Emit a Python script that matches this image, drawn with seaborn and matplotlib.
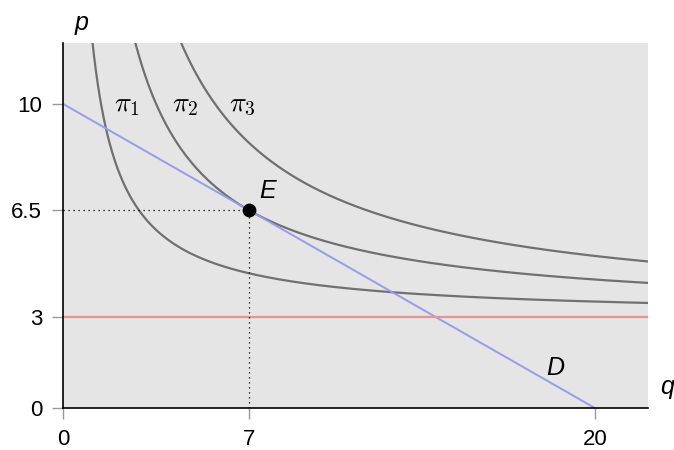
"""
Monopoly pricing diagram: iso-profit curves, demand and marginal cost.
"""
import numpy as np
import pandas as pd
import matplotlib
matplotlib.use("Agg")
import matplotlib.pyplot as plt
import seaborn as sns

# ── chart values ────────────────────────────────────────────────────────────
profit_levels = [10, 24.5, 40]           # pi_1, pi_2, pi_3
profit_labels = [r"$\pi_1$", r"$\pi_2$", r"$\pi_3$"]
marginal_cost = 3
demand_q = [0, 20]                       # demand line end points
demand_p = [10, 0]
eq_q, eq_p = 7, 6.5                      # optimum E
x_ticks = [0, 7, 20]
y_ticks = [0, 3, 6.5, 10]
y_tick_labels = ["0", "3", "6.5", "10"]

CURVE = "#707070"
DEMAND = "#9a9aee"
COST = "#e89494"

sns.set_theme(style="white")
plt.rcParams["font.family"] = ["Liberation Sans", "DejaVu Sans"]
plt.rcParams["mathtext.fontset"] = "cm"
plt.rcParams["text.color"] = "black"

fig = plt.figure(figsize=(6.74, 4.5), dpi=100)
ax = fig.add_axes([0.0935, 0.0933, 0.868, 0.811])
ax.set_facecolor("#e5e5e5")

# iso-profit curves p = c + pi / q
q = np.linspace(0.3, 22, 600)
rows = []
for lvl, lab in zip(profit_levels, profit_labels):
    rows.append(pd.DataFrame({"q": q, "p": marginal_cost + lvl / q, "curve": lab}))
curves = pd.concat(rows)
sns.lineplot(data=curves, x="q", y="p", units="curve", estimator=None,
             color=CURVE, linewidth=1.6, ax=ax, legend=False)

# demand and marginal cost
sns.lineplot(x=demand_q, y=demand_p, color=DEMAND, linewidth=1.4, ax=ax)
ax.axhline(marginal_cost, color=COST, linewidth=1.6)

# guide lines to E
ax.plot([0, eq_q], [eq_p, eq_p], color="black", linestyle=(0, (1, 3)), linewidth=0.9)
ax.plot([eq_q, eq_q], [0, eq_p], color="black", linestyle=(0, (1, 3)), linewidth=0.9)
ax.scatter([eq_q], [eq_p], s=80, color="black", zorder=5)

ax.set_xlim(0, 22)
ax.set_ylim(0, 12)
ax.set_xticks(x_ticks)
ax.set_yticks(y_ticks)
ax.set_yticklabels(y_tick_labels)
ax.tick_params(axis="both", direction="out", length=8, width=1, color="#999999",
               labelsize=16, labelcolor="black", pad=7, bottom=True, left=True)
ax.set_xlabel("")
ax.set_ylabel("")
for side in ["top", "right"]:
    ax.spines[side].set_visible(False)
for side in ["left", "bottom"]:
    ax.spines[side].set_color("black")
    ax.spines[side].set_linewidth(1.2)

# labels
for x, lab in zip([2.4, 4.6, 6.75], profit_labels):
    ax.text(x, 9.95, lab, fontsize=20, ha="center", va="center", color="black")
ax.text(7.7, 7.15, "E", fontsize=18, style="italic", ha="center", va="center",
        color="black")
ax.text(18.5, 1.32, "D", fontsize=18, style="italic", ha="center", va="center",
        color="black")
ax.text(0.68, 12.65, "p", fontsize=18, style="italic", ha="center", va="center",
        color="black", clip_on=False)
ax.text(22.7, 0.7, "q", fontsize=18, style="italic", ha="center", va="center",
        color="black", clip_on=False)

fig.savefig("out.png", dpi=100)
